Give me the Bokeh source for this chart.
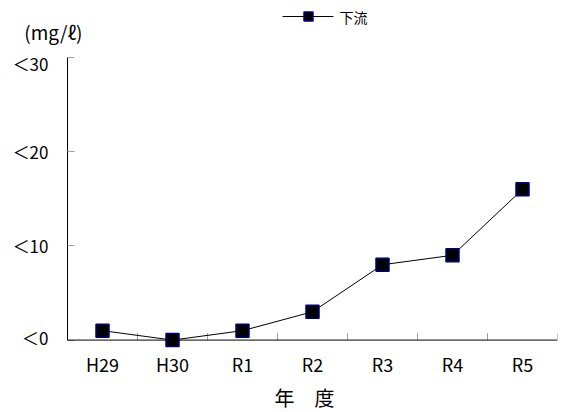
from bokeh.plotting import figure
from bokeh.layouts import column
from bokeh.models import FixedTicker, Range1d, Span
from bokeh.core.properties import value
from bokeh.embed import file_html
from bokeh.resources import INLINE

years = ["H29", "H30", "R1", "R2", "R3", "R4", "R5"]
downstream = [1, 0, 1, 3, 8, 9, 16]
y_ticks = [0, 10, 20, 30]
y_tick_labels = ["＜0", "＜10", "＜20", "＜30"]
series_name = "下流"
unit_label = "(mg/ℓ)"
x_title = "年　度"

FONT = "Noto Sans CJK JP"
W = 565
LEFT, RIGHT = 67, 8
HEAD_H, MAIN_H, FOOT_H = 50, 299, 63

xpos = [i + 0.5 for i in range(len(years))]
bounds = list(range(len(years) + 1))


def bare(fig):
    fig.outline_line_color = None
    fig.grid.visible = False
    return fig


# ---- header: legend + unit label (header coordinates are pixels) ----
head = bare(figure(width=W, height=HEAD_H, output_backend="svg", toolbar_location=None,
                   x_range=Range1d(LEFT, W - RIGHT), y_range=Range1d(HEAD_H, 0),
                   x_axis_location=None, y_axis_location="left",
                   min_border_left=LEFT, min_border_right=RIGHT,
                   min_border_top=0, min_border_bottom=0))
head.line([282, 333], [16, 16], line_color="black", line_width=1)
head.scatter([308], [16], marker="square", size=9, fill_color="black",
             line_color="#000080", line_width=1.5)
head.text(x=[339], y=[16], text=[series_name], text_font=value(FONT),
          text_font_size="14px", text_baseline="middle", text_align="left", text_color="black")
head.yaxis.ticker = FixedTicker(ticks=[31], minor_ticks=[])
head.yaxis.major_label_overrides = {31: unit_label}
head.yaxis.axis_line_color = None
head.yaxis.major_tick_line_color = None
head.yaxis.minor_tick_line_color = None
head.yaxis.major_label_standoff = -21
head.yaxis.major_label_text_font = FONT
head.yaxis.major_label_text_font_size = "19px"
head.yaxis.major_label_text_color = "black"

# ---- main chart ----
p = bare(figure(width=W, height=MAIN_H, output_backend="svg", toolbar_location=None,
                x_range=Range1d(0, len(years)), y_range=Range1d(-1, y_ticks[-1]),
                x_axis_location=None,
                min_border_left=LEFT, min_border_right=RIGHT, min_border_top=7,
                min_border_bottom=0))

# x axis line and category-boundary ticks at y = 0
p.ray(x=bounds, y=[0] * len(bounds), length=7, length_units="screen",
      angle=90, angle_units="deg", line_color="#a0a0a0", line_width=1)
p.add_layout(Span(location=0, dimension="width", line_color="black", line_width=1))

# y axis
p.yaxis.bounds = (y_ticks[0], y_ticks[-1])
p.yaxis.ticker = FixedTicker(ticks=y_ticks, minor_ticks=[])
p.yaxis.major_label_overrides = {v: lab for v, lab in zip(y_ticks, y_tick_labels)}
p.yaxis.major_tick_in = 7
p.yaxis.major_tick_out = 0
p.yaxis.major_tick_line_color = "#a0a0a0"
p.yaxis.minor_tick_line_color = None
p.yaxis.axis_line_color = "black"
p.yaxis.major_label_text_font = FONT
p.yaxis.major_label_text_font_size = "17px"
p.yaxis.major_label_text_color = "black"
p.yaxis.major_label_standoff = 19

p.line(xpos, downstream, line_color="black", line_width=1)
p.scatter(xpos, downstream, marker="square", size=13, fill_color="black",
          line_color="#000080", line_width=1.5)

# ---- footer: category labels and axis title, same x scale as the chart ----
foot = bare(figure(width=W, height=FOOT_H, output_backend="svg", toolbar_location=None,
                   x_range=Range1d(0, len(years)), y_range=Range1d(FOOT_H, 0),
                   x_axis_location=None, y_axis_location=None,
                   min_border_left=LEFT, min_border_right=RIGHT,
                   min_border_top=0, min_border_bottom=0))
foot.text(x=xpos, y=[14] * len(xpos), text=years, text_font=value(FONT),
          text_font_size="18px", text_baseline="middle", text_align="center", text_color="black")
foot.text(x=[len(years) / 2], y=[48], x_offset=-8, text=[x_title], text_font=value(FONT),
          text_font_size="20px", text_baseline="middle", text_align="center", text_color="black")

layout = column(head, p, foot, spacing=0)
open("out.html", "w").write(file_html(layout, INLINE))
